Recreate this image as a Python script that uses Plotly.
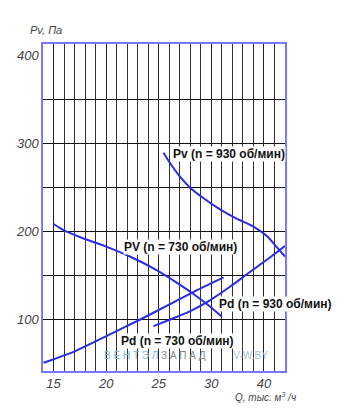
import plotly.graph_objects as go

# Data (Q in thousand m3/h, P in Pa)
q_pv930 = [25.45, 26.2, 27.0, 28.0, 29.3, 30.9, 32.4, 34.0, 35.3, 36.2, 37.0]
p_pv930 = [289, 275, 262, 249, 237, 224, 214, 205, 194, 182, 171]

q_pv730 = [15.0, 15.95, 17.85, 20.07, 22.3, 24.5, 26.7, 28.3, 29.9, 31.0]
p_pv730 = [208, 201, 191.5, 182, 170.8, 157.6, 141.5, 128.5, 114, 102.6]

q_pd730 = [14.05, 16.9, 20.07, 23.24, 26.4, 28.5, 31.16]
p_pd730 = [50.3, 62.8, 81.0, 99.5, 119.0, 132.0, 147.4]

q_pd930 = [24.5, 26.1, 28.0, 29.9, 31.8, 33.7, 35.4, 37.0]
p_pd930 = [92, 99.5, 109, 121.6, 137, 153.8, 168.5, 183]

x_tickvals = [15, 20, 25, 30, 35]
x_ticktext = ["15", "20", "25", "30", "40"]
y_tickvals = [100, 200, 300, 400]
y_gridvals = [100, 150, 200, 250, 300, 350]
x_gridvals = list(range(15, 37))

labels = [
    ("Pv (n = 930 об/мин)", 26.28, 287.5),
    ("PV (n = 730 об/мин)", 21.65, 181.8),
    ("Pd (n = 930 об/мин)", 30.65, 116.7),
    ("Pd (n = 730 об/мин)", 21.34, 75.0),
]

CURVE = "#2b2be8"
BORDER = "#7777ff"
TICKFONT = dict(family="Liberation Sans, Arial, sans-serif",
                size=13, color="#444444", style="italic")

fig = go.Figure()
for q, p in [(q_pv930, p_pv930), (q_pv730, p_pv730), (q_pd730, p_pd730), (q_pd930, p_pd930)]:
    fig.add_trace(go.Scatter(x=q, y=p, mode="lines",
                             line=dict(color=CURVE, width=2, shape="spline", smoothing=0.5),
                             showlegend=False, hoverinfo="skip"))

for text, x, y in labels:
    fig.add_annotation(x=x, y=y, xref="x", yref="y", text=text, showarrow=False,
                       xanchor="left", yanchor="middle", bgcolor="white", borderpad=0,
                       font=dict(family="Liberation Sans, Arial, sans-serif", size=12,
                                 color="#111111", weight="bold"))

fig.add_annotation(x=19.6, y=59.0, xref="x", yref="y", xanchor="left", yanchor="middle",
                   showarrow=False,
                   text="<span style='color:#7ab6e2'>В Е Н Т Э Л</span> "
                        "<span style='color:#8a8a8a'>З А П А Д</span>"
                        "          <span style='color:#a8c4dc'>V-W.BY</span>",
                   font=dict(family="Liberation Sans, Arial, sans-serif", size=10))

fig.add_annotation(x=-0.062, y=1.043, xref="paper", yref="paper", xanchor="left", yanchor="middle",
                   showarrow=False, text="Pv, Па",
                   font=dict(family=TICKFONT["family"], size=11, color="#444444", style="italic"))
fig.add_annotation(x=(298 - 43) / 242, y=-0.08, xref="paper", yref="paper",
                   xanchor="right", yanchor="middle",
                   showarrow=False, text="Q, тыс. м<sup>3</sup> /ч",
                   font=dict(family=TICKFONT["family"], size=10, color="#444444", style="italic"))

fig.update_layout(
    width=344, height=417,
    margin=dict(l=43, r=59, t=44, b=46),
    paper_bgcolor="white", plot_bgcolor="white",
    xaxis=dict(range=[14, 37], tickmode="array", tickvals=x_tickvals, ticktext=x_ticktext,
               showgrid=True, gridcolor="#222222", gridwidth=1.2, zeroline=False,
               showline=True, linecolor=BORDER, linewidth=1.5, mirror=True,
               ticks="", tickfont=TICKFONT,
               minor=dict(tickmode="array", tickvals=x_gridvals, showgrid=True,
                          gridcolor="#333333", gridwidth=1.2)),
    yaxis=dict(range=[41, 412.5], tickmode="array", tickvals=y_tickvals,
               showgrid=False, zeroline=False,
               showline=True, linecolor=BORDER, linewidth=1.5, mirror=True,
               ticks="", tickfont=TICKFONT,
               minor=dict(tickmode="array", tickvals=y_gridvals, showgrid=True,
                          gridcolor="#111111", gridwidth=1)),
)

fig.write_html("out.html")
